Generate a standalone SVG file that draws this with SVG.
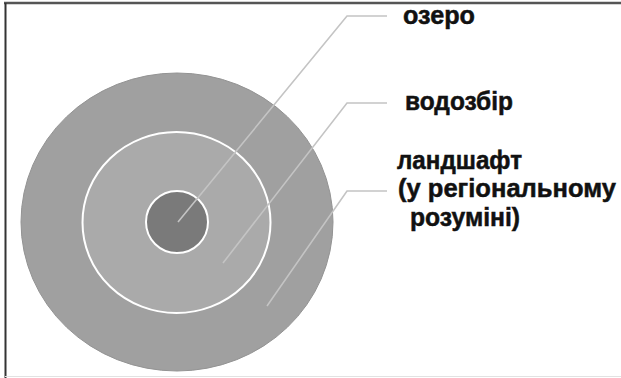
<svg xmlns="http://www.w3.org/2000/svg" width="621" height="378" viewBox="0 0 621 378">
  <style>
    .lbl { font-family: "Liberation Sans", Arial, sans-serif; font-weight: bold; font-size: 25px; fill: #111111; stroke: #111111; stroke-width: 0.5; }
    .lead { fill: none; stroke: #c4c4c4; stroke-width: 1.6; stroke-linejoin: miter; }
  </style>
  <rect x="0" y="0" width="621" height="378" fill="#ffffff"/>
  <g id="frame">
    <line x1="4" y1="3" x2="621" y2="3" stroke="#555555" stroke-width="2.5"/>
    <line x1="5.5" y1="3" x2="5.5" y2="378" stroke="#333333" stroke-width="2"/>
    <line x1="5" y1="376.5" x2="621" y2="376.5" stroke="#e2e2e2" stroke-width="1"/>
  </g>
  <g id="landscape">
    <ellipse cx="177" cy="222" rx="156" ry="149" fill="#a0a0a0" stroke="#939393" stroke-width="1"/>
  </g>
  <g id="watershed">
    <ellipse cx="176.5" cy="222.5" rx="94" ry="90.5" fill="#aaaaaa" stroke="#ffffff" stroke-width="2"/>
  </g>
  <g id="lake">
    <circle cx="177" cy="222" r="31" fill="#7a7a7a" stroke="#ffffff" stroke-width="2"/>
  </g>
  <g id="connectors">
    <polyline class="lead" points="178,222 347,16 387,16"/>
    <polyline class="lead" points="223,263 347,103 387,103"/>
    <polyline class="lead" points="267,306 347,191 387,191"/>
  </g>
  <g id="labels">
    <text class="lbl" x="403" y="24" textLength="72" lengthAdjust="spacingAndGlyphs">озеро</text>
    <text class="lbl" x="405" y="110" textLength="108" lengthAdjust="spacingAndGlyphs">водозбір</text>
    <text class="lbl" x="397" y="169" textLength="125" lengthAdjust="spacingAndGlyphs">ландшафт</text>
    <text class="lbl" x="398" y="197" textLength="218" lengthAdjust="spacingAndGlyphs">(у регіональному</text>
    <text class="lbl" x="410" y="226" textLength="110" lengthAdjust="spacingAndGlyphs">розуміні)</text>
  </g>
</svg>
